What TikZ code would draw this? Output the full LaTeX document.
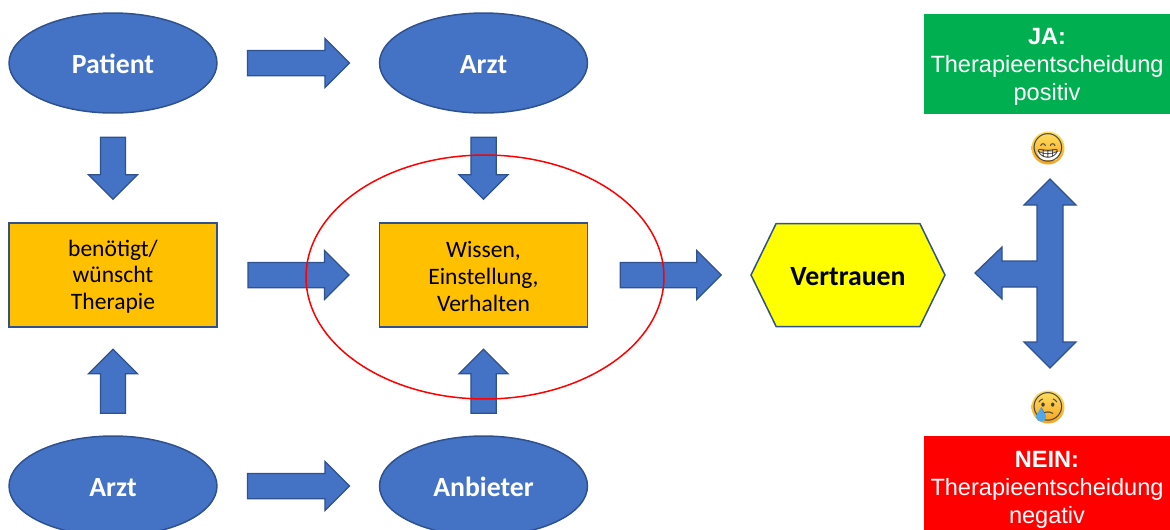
\documentclass[tikz,border=0pt]{standalone}
\usepackage{fontspec}
\setmainfont{Carlito}
\newfontfamily\arialfont{Liberation Sans}
\newfontfamily\emojifont{Noto Emoji}
\usetikzlibrary{calc,shapes.geometric,shapes.arrows,shapes.symbols}
\definecolor{shapeblue}{HTML}{4472C4}
\definecolor{edgeblue}{HTML}{2F528F}
\definecolor{boxorange}{HTML}{FFC000}
\definecolor{boxyellow}{HTML}{FFFF00}
\definecolor{boxgreen}{HTML}{00B050}
\definecolor{boxred}{HTML}{FF0000}
\definecolor{moodtop}{HTML}{FFDF60}
\definecolor{moodbottom}{HTML}{F5A31F}
\definecolor{teardrop}{HTML}{4FA8E8}
\def\resulttitle#1{\rule{0pt}{13.5pt}{\bfseries #1}}
\def\statetitle#1{\rule{0pt}{11.2pt}#1}
\tikzset{
	person/.style={ellipse, draw=edgeblue, line width=0.3mm, fill=shapeblue, text=white, inner sep=0, minimum width=4.16cm, minimum height=2cm, font=\fontsize{15.8}{18}\selectfont\bfseries, execute at begin node={\rule{0pt}{12.5pt}}},
	state/.style={rectangle, draw=edgeblue, line width=0.3mm, fill=boxorange, inner sep=0, minimum width=4.16cm, minimum height=2.08cm, align=center, font=\fontsize{13.4}{15.3}\selectfont},
	result/.style={rectangle, text=white, inner sep=0, minimum width=4.92cm, minimum height=2cm, align=center, font=\arialfont\fontsize{13.4}{15.9}\selectfont},
	blockarrow/.style={single arrow, draw=edgeblue, line width=0.25mm, fill=shapeblue, inner sep=0, text width=0pt, text height=0.24cm, text depth=0.24cm, single arrow head extend=0.24cm, minimum height=#1, xshift=-0.12cm},
	mood/.style={circle, inner sep=0, minimum size=0.66cm, top color=moodtop, bottom color=moodbottom},
	moodface/.style={inner sep=0, text=black!75, font=\emojifont\fontsize{16}{16}\selectfont}
}

\begin{document}
\begin{tikzpicture}[x=0.02cm, y=-0.02cm]
	\useasboundingbox (0, 0) rectangle (1170, 529);
	\clip (0, 0) rectangle (1170, 529);

	\node[person] (patient) at (113, 63) {Patient};
	\node[person] (arztTop) at (483.5, 63) {Arzt};
	\node[person] (arztBottom) at (113, 486) {Arzt};
	\node[person] (anbieter) at (483.5, 486) {Anbieter};

	\node[state] (therapie) at (113, 275) {\statetitle{benötigt/}\\wünscht\\Therapie};
	\node[state] (wissen) at (483.5, 275) {\statetitle{Wissen,}\\Einstellung,\\Verhalten};

	\node[signal, signal to=east and west, signal from=nowhere, signal pointer angle=128, draw=edgeblue, line width=0.3mm, fill=boxyellow, inner sep=0, minimum width=3.88cm, minimum height=2.06cm, font=\fontsize{15.8}{18}\selectfont\bfseries, execute at begin node={\rule{0pt}{12.5pt}}] (vertrauen) at (848, 275) {Vertrauen};

	\node[result, fill=boxgreen] (ja) at (1047, 63.5) {\resulttitle{JA:}\\Therapieentscheidung\\positiv};
	\node[result, fill=boxred] (nein) at (1047, 486) {\resulttitle{NEIN:}\\Therapieentscheidung\\negativ};

	\node[mood] (happy) at (1048, 148) {};
	\fill[white] (1037, 152) -- (1060, 152) -- (1056, 160) -- (1041, 160) -- cycle;
	\node[moodface] (happyFace) at (happy) {\char"1F601};

	\node[mood] (sad) at (1048, 407) {};
	\node[moodface] (sadFace) at (sad) {\char"1F622};
	\fill[teardrop] (1041, 407) .. controls (1039, 412) and (1036, 414) .. (1036, 417) .. controls (1036, 423) and (1046, 423) .. (1046, 417) .. controls (1046, 414) and (1043, 412) .. (1041, 407);

	\node[blockarrow=2.04cm] (patientArzt) at ($(patient.east)!0.5!(arztTop.west)$) {};
	\node[blockarrow=2.04cm] (arztAnbieter) at ($(arztBottom.east)!0.5!(anbieter.west)$) {};
	\node[blockarrow=2.02cm] (therapieWissen) at ($(therapie.east)!0.5!(wissen.west)$) {};
	\node[blockarrow=2.02cm] (wissenVertrauen) at (670.5, 275) {};

	\node[rotate=-90, blockarrow=1.24cm] (patientTherapie) at ($(patient.south)!0.5!(therapie.north)$) {};
	\node[rotate=-90, blockarrow=1.24cm] (arztWissen) at ($(arztTop.south)!0.5!(wissen.north)$) {};
	\node[rotate=90, blockarrow=1.28cm] (arztTherapie) at ($(arztBottom.north)!0.5!(therapie.south)$) {};
	\node[rotate=90, blockarrow=1.28cm] (anbieterWissen) at ($(anbieter.north)!0.5!(wissen.south)$) {};

	\draw[draw=edgeblue, line width=0.25mm, fill=shapeblue] (1050, 179) -- (1076, 205) -- (1063, 205) -- (1063, 342) -- (1076, 342) -- (1050, 368) -- (1024, 342) -- (1037, 342) -- (1037, 287) -- (1002, 287) -- (1002, 299) -- (975, 273) -- (1002, 247) -- (1002, 261) -- (1037, 261) -- (1037, 205) -- (1024, 205) -- cycle;

	\node[ellipse, draw=red, line width=0.3mm, inner sep=0, minimum width=7.16cm, minimum height=4.88cm] (focus) at (485, 277) {};
\end{tikzpicture}
\end{document}
